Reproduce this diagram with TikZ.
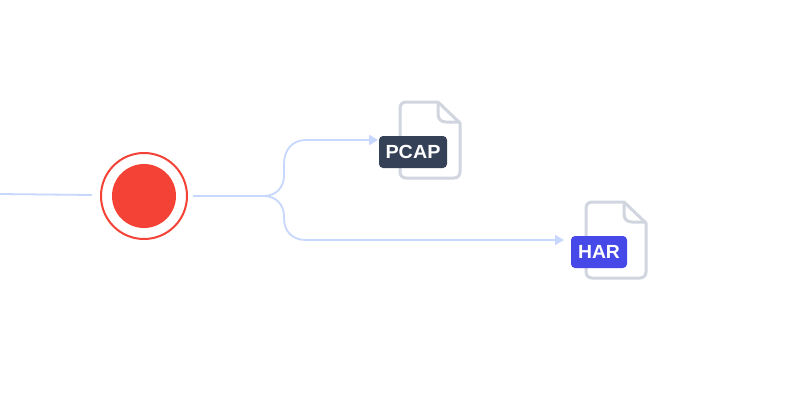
\documentclass[tikz,border=0pt]{standalone}
\usepackage{fontspec}
\setmainfont{Liberation Sans}
\usetikzlibrary{arrows.meta}
\definecolor{flow}{HTML}{C7D7FE}
\definecolor{filegray}{HTML}{D1D5DF}
\definecolor{recred}{HTML}{F44336}
\definecolor{pcapbg}{HTML}{344157}
\definecolor{harbg}{HTML}{4648E8}
\tikzset{
  flowline/.style={draw=flow,line width=1.8pt},
  flowarrow/.style={flowline,-{Triangle[length=9pt,width=10pt,fill=flow]}},
  filesheet/.style={draw=filegray,line width=3pt,line join=round},
  badge/.style={rounded corners=4pt,minimum height=32pt,inner sep=0pt,text=white,font=\fontsize{19}{19}\selectfont\bfseries,anchor=center},
  recouter/.style={circle,draw=recred,line width=2pt,minimum size=86pt,inner sep=0pt},
  recinner/.style={circle,fill=recred,minimum size=64pt,inner sep=0pt}
}
\begin{document}
\begin{tikzpicture}[x=1pt,y=-1pt]
\useasboundingbox (0,0) rectangle (800,400);
\fill[white] (0,0) rectangle (800,400);
% recorder
\node[recouter] (rec) at (144,196) {};
\node[recinner] (core) at (144,196) {};
% connector anchors
\coordinate (in) at (0,194);
\coordinate (inend) at (92,195);
\coordinate (out) at (193,196);
\coordinate (pcapin) at (378,140);
\coordinate (harin) at (564,240);
% file outlines
\draw[filesheet] (438,102) -- (406,102) .. controls (402.5,102) and (400,104.5) .. (400,108) -- (400,172) .. controls (400,175.5) and (402.5,178) .. (406,178) -- (454,178) .. controls (457.5,178) and (460,175.5) .. (460,172) -- (460,123) -- cycle;
\draw[filesheet] (438,102) -- (438,114) .. controls (438,119) and (441,122) .. (446,122) -- (460,122);
\draw[filesheet] (624,202) -- (592,202) .. controls (588.5,202) and (586,204.5) .. (586,208) -- (586,272) .. controls (586,275.5) and (588.5,278) .. (592,278) -- (640,278) .. controls (643.5,278) and (646,275.5) .. (646,272) -- (646,223) -- cycle;
\draw[filesheet] (624,202) -- (624,214) .. controls (624,219) and (627,222) .. (632,222) -- (646,222);
% badges
\node[badge,fill=pcapbg,minimum width=68pt] (pcap) at (413,152) {\scalebox{1.04}[1]{PCAP}};
\node[badge,fill=harbg,minimum width=56pt] (har) at (599,252) {\scalebox{1.02}[1]{HAR}};
% connectors
\draw[flowline] (in) -- (inend);
\draw[flowarrow] (out) -- (264,196) .. controls (276,196) and (284,187) .. (284,176) -- (284,164) .. controls (284,150) and (292,140) .. (306,140) -- (pcapin);
\draw[flowarrow] (out) -- (264,196) .. controls (276,196) and (284,205) .. (284,216) -- (284,218) .. controls (284,231) and (292,240) .. (306,240) -- (harin);
\end{tikzpicture}
\end{document}
